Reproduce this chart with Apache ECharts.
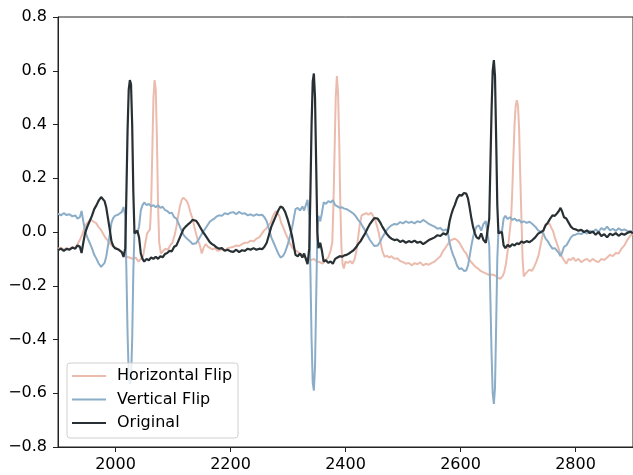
<!DOCTYPE html>
<html>
<head>
<meta charset="utf-8">
<script src="https://cdn.jsdelivr.net/npm/echarts@6/dist/echarts.min.js"></script>
<style>html,body{margin:0;padding:0;background:#fff}#c{width:633px;height:475px}</style>
</head>
<body>
<div id="c"></div>
<script>
// x ticks and y ticks
var xTicks = [2000, 2200, 2400, 2600, 2800];
var yTicks = [-0.8, -0.6, -0.4, -0.2, 0.0, 0.2, 0.4, 0.6, 0.8];
var seriesNames = ['Horizontal Flip', 'Vertical Flip', 'Original'];

// sample positions shared by Original and Vertical Flip
var sampleX = [1900,1905,1910,1915,1920,1925,1930,1934,1938,1941,1944,1947,1951,1955,1959,1963,1967,1971,1975,1978,1981,1984,1987,1990,1993,1996,1999,2002,2005,2008,2011,2014,2017,2019,2021,2023,2025,2027,2029,2031,2033,2035,2038,2041,2044,2047,2050,2054,2058,2062,2066,2070,2074,2078,2082,2086,2090,2094,2098,2102,2106,2110,2114,2118,2122,2126,2130,2134,2137,2140,2144,2148,2152,2156,2160,2164,2168,2172,2176,2180,2185,2190,2195,2200,2205,2210,2215,2220,2225,2230,2235,2240,2245,2250,2255,2259,2263,2267,2271,2275,2279,2283,2287,2291,2295,2299,2303,2307,2310,2313,2317,2321,2325,2328,2331,2334,2337,2339,2341,2343,2345,2347,2349,2351,2353,2356,2359,2362,2366,2370,2374,2378,2382,2386,2390,2394,2398,2402,2406,2410,2414,2418,2422,2426,2430,2434,2438,2442,2446,2450,2453,2456,2460,2464,2468,2472,2476,2480,2485,2490,2495,2500,2505,2510,2515,2520,2525,2530,2535,2540,2545,2550,2555,2560,2565,2570,2575,2578,2581,2584,2587,2590,2594,2598,2602,2606,2610,2613,2616,2619,2622,2625,2628,2632,2636,2640,2644,2647,2650,2652,2654,2656,2658,2660,2662,2664,2666,2669,2672,2675,2678,2682,2686,2690,2694,2698,2702,2706,2710,2715,2720,2725,2730,2735,2740,2744,2748,2752,2756,2760,2764,2768,2771,2774,2777,2780,2784,2788,2792,2796,2800,2805,2810,2815,2820,2825,2830,2835,2840,2845,2850,2855,2860,2865,2870,2875,2880,2885,2890,2895,2900];

var originalY = [-0.068,-0.062,-0.07,-0.063,-0.066,-0.058,-0.062,-0.05,-0.055,-0.078,-0.04,-0.005,0.02,0.04,0.06,0.085,0.1,0.118,0.13,0.128,0.115,0.09,0.05,0.01,-0.035,-0.052,-0.06,-0.055,-0.065,-0.058,-0.075,-0.093,-0.06,0.15,0.38,0.53,0.565,0.55,0.4,0.15,-0.005,-0.01,0.005,-0.02,-0.08,-0.1,-0.11,-0.1,-0.105,-0.095,-0.1,-0.092,-0.1,-0.09,-0.094,-0.082,-0.078,-0.07,-0.072,-0.055,-0.05,-0.03,-0.01,0.01,0.02,0.028,0.035,0.045,0.05,0.042,0.03,0.015,0.0,-0.012,-0.025,-0.038,-0.045,-0.05,-0.058,-0.062,-0.06,-0.07,-0.066,-0.072,-0.074,-0.066,-0.075,-0.068,-0.07,-0.062,-0.066,-0.06,-0.066,-0.062,-0.064,-0.055,-0.04,-0.01,0.02,0.04,0.06,0.08,0.095,0.09,0.075,0.05,0.02,-0.015,-0.05,-0.085,-0.09,-0.08,-0.095,-0.08,-0.1,-0.12,-0.06,0.15,0.4,0.56,0.59,0.5,0.25,0.0,-0.06,-0.04,-0.07,-0.11,-0.105,-0.115,-0.11,-0.118,-0.1,-0.095,-0.09,-0.092,-0.087,-0.085,-0.08,-0.074,-0.068,-0.058,-0.045,-0.035,-0.02,-0.006,0.012,0.028,0.04,0.052,0.045,0.05,0.037,0.02,0.006,-0.008,-0.018,-0.025,-0.03,-0.028,-0.037,-0.032,-0.04,-0.034,-0.038,-0.032,-0.04,-0.036,-0.045,-0.038,-0.03,-0.025,-0.02,-0.012,-0.015,-0.005,-0.01,0.0,0.04,0.065,0.085,0.1,0.125,0.138,0.135,0.145,0.143,0.125,0.09,0.05,0.018,-0.005,-0.02,-0.025,-0.005,-0.03,-0.04,-0.045,0.05,0.25,0.45,0.6,0.64,0.58,0.35,0.1,-0.005,-0.01,0.0,-0.05,-0.06,-0.048,-0.055,-0.045,-0.05,-0.042,-0.045,-0.035,-0.04,-0.034,-0.038,-0.03,-0.02,-0.006,0.0,0.005,0.025,0.035,0.05,0.062,0.06,0.07,0.078,0.09,0.075,0.055,0.05,0.035,0.02,0.012,0.01,0.005,0.008,0.0,0.006,-0.004,0.002,-0.01,0.0,-0.015,-0.008,-0.02,-0.006,-0.012,-0.004,-0.014,-0.006,-0.01,-0.004,0.002,-0.005];

var verticalY = [0.068,0.062,0.07,0.063,0.066,0.058,0.062,0.05,0.055,0.078,0.04,0.005,-0.02,-0.04,-0.06,-0.085,-0.1,-0.118,-0.13,-0.128,-0.115,-0.09,-0.05,-0.01,0.035,0.052,0.06,0.055,0.065,0.058,0.075,0.093,0.06,-0.15,-0.38,-0.53,-0.565,-0.55,-0.4,-0.15,0.005,0.01,-0.005,0.02,0.08,0.1,0.11,0.1,0.105,0.095,0.1,0.092,0.1,0.09,0.094,0.082,0.078,0.07,0.072,0.055,0.05,0.03,0.01,-0.01,-0.02,-0.028,-0.035,-0.045,-0.05,-0.042,-0.03,-0.015,0.0,0.012,0.025,0.038,0.045,0.05,0.058,0.062,0.06,0.07,0.066,0.072,0.074,0.066,0.075,0.068,0.07,0.062,0.066,0.06,0.066,0.062,0.064,0.055,0.04,0.01,-0.02,-0.04,-0.06,-0.08,-0.095,-0.09,-0.075,-0.05,-0.02,0.015,0.05,0.085,0.09,0.08,0.095,0.08,0.1,0.12,0.06,-0.15,-0.4,-0.56,-0.59,-0.5,-0.25,0.0,0.06,0.04,0.07,0.11,0.105,0.115,0.11,0.118,0.1,0.095,0.09,0.092,0.087,0.085,0.08,0.074,0.068,0.058,0.045,0.035,0.02,0.006,-0.012,-0.028,-0.04,-0.052,-0.045,-0.05,-0.037,-0.02,-0.006,0.008,0.018,0.025,0.03,0.028,0.037,0.032,0.04,0.034,0.038,0.032,0.04,0.036,0.045,0.038,0.03,0.025,0.02,0.012,0.015,0.005,0.01,0.0,-0.04,-0.065,-0.085,-0.1,-0.125,-0.138,-0.135,-0.145,-0.143,-0.125,-0.09,-0.05,-0.018,0.005,0.02,0.025,0.005,0.03,0.04,0.045,-0.05,-0.25,-0.45,-0.6,-0.64,-0.58,-0.35,-0.1,0.005,0.01,0.0,0.05,0.06,0.048,0.055,0.045,0.05,0.042,0.045,0.035,0.04,0.034,0.038,0.03,0.02,0.006,0.0,-0.005,-0.025,-0.035,-0.05,-0.062,-0.06,-0.07,-0.078,-0.09,-0.075,-0.055,-0.05,-0.035,-0.02,-0.012,-0.01,-0.005,-0.008,0.0,-0.006,0.004,-0.002,0.01,0.0,0.015,0.008,0.02,0.006,0.012,0.004,0.014,0.006,0.01,0.004,-0.002,0.005];

// Horizontal Flip sample positions and values
var hflipX = [1900,1905,1910,1915,1920,1925,1930,1934,1938,1942,1946,1950,1954,1958,1962,1966,1970,1974,1978,1982,1986,1990,1995,2000,2005,2010,2015,2020,2025,2030,2035,2040,2044,2048,2052,2055,2058,2060,2062,2064,2066,2068,2070,2072,2074,2076,2079,2083,2087,2091,2095,2099,2103,2106,2109,2112,2115,2118,2121,2124,2127,2130,2134,2137,2140,2143,2146,2150,2153,2157,2161,2165,2169,2173,2177,2181,2185,2190,2195,2200,2205,2210,2215,2220,2225,2230,2235,2240,2245,2250,2254,2258,2262,2266,2270,2273,2276,2279,2282,2285,2288,2292,2296,2300,2304,2308,2312,2316,2320,2325,2330,2335,2340,2345,2350,2355,2360,2365,2370,2374,2377,2379,2381,2383,2385,2387,2389,2391,2393,2395,2397,2400,2404,2408,2412,2416,2419,2422,2425,2428,2432,2436,2440,2444,2448,2452,2455,2458,2461,2464,2468,2472,2476,2480,2485,2490,2495,2500,2505,2510,2515,2520,2525,2530,2535,2540,2545,2550,2555,2560,2565,2570,2574,2578,2582,2586,2590,2594,2598,2602,2606,2610,2614,2618,2622,2626,2630,2635,2640,2645,2650,2655,2660,2665,2669,2673,2676,2679,2682,2685,2688,2690,2692,2694,2696,2698,2700,2702,2704,2706,2708,2710,2713,2716,2720,2724,2728,2732,2736,2740,2743,2746,2749,2752,2755,2758,2761,2764,2768,2772,2776,2780,2784,2788,2792,2796,2800,2805,2810,2815,2820,2825,2830,2835,2840,2845,2850,2855,2860,2865,2870,2875,2880,2885,2890,2895,2900];
var hflipY = [-0.062,-0.058,-0.066,-0.06,-0.064,-0.056,-0.06,-0.045,-0.03,-0.01,0.015,0.032,0.04,0.045,0.038,0.034,0.02,0.01,-0.005,-0.02,-0.03,-0.042,-0.052,-0.058,-0.066,-0.075,-0.085,-0.092,-0.096,-0.1,-0.095,-0.11,-0.1,-0.09,-0.04,-0.005,0.0,0.01,0.1,0.3,0.5,0.565,0.53,0.35,0.1,-0.04,-0.08,-0.07,-0.062,-0.066,-0.05,-0.04,-0.01,0.02,0.06,0.095,0.118,0.128,0.13,0.115,0.1,0.075,0.05,0.02,-0.006,-0.03,-0.045,-0.08,-0.06,-0.045,-0.055,-0.06,-0.065,-0.06,-0.07,-0.068,-0.064,-0.07,-0.06,-0.058,-0.055,-0.05,-0.052,-0.045,-0.04,-0.04,-0.032,-0.035,-0.025,-0.02,-0.008,0.005,0.012,0.025,0.035,0.055,0.068,0.078,0.08,0.06,0.035,0.015,-0.006,-0.025,-0.045,-0.06,-0.068,-0.072,-0.08,-0.085,-0.095,-0.1,-0.105,-0.1,-0.11,-0.112,-0.118,-0.105,-0.095,-0.07,-0.04,0.1,0.3,0.5,0.58,0.52,0.35,0.1,-0.06,-0.12,-0.136,-0.11,-0.115,-0.108,-0.118,-0.1,-0.07,-0.02,0.03,0.062,0.066,0.07,0.064,0.072,0.06,0.043,0.02,-0.005,-0.04,-0.07,-0.093,-0.088,-0.095,-0.09,-0.1,-0.098,-0.108,-0.112,-0.118,-0.115,-0.124,-0.116,-0.12,-0.113,-0.124,-0.118,-0.122,-0.115,-0.11,-0.1,-0.09,-0.07,-0.058,-0.045,-0.032,-0.028,-0.025,-0.03,-0.04,-0.055,-0.07,-0.08,-0.1,-0.11,-0.12,-0.13,-0.135,-0.145,-0.15,-0.155,-0.16,-0.158,-0.162,-0.17,-0.174,-0.165,-0.15,-0.12,-0.07,-0.01,0.05,0.15,0.28,0.4,0.47,0.49,0.47,0.38,0.2,0.05,-0.1,-0.165,-0.155,-0.148,-0.14,-0.145,-0.13,-0.11,-0.085,-0.04,-0.01,0.018,0.03,0.037,0.03,0.015,0.004,-0.02,-0.045,-0.07,-0.09,-0.105,-0.118,-0.1,-0.105,-0.095,-0.108,-0.1,-0.112,-0.105,-0.1,-0.11,-0.1,-0.108,-0.112,-0.1,-0.104,-0.095,-0.085,-0.09,-0.078,-0.08,-0.062,-0.05,-0.03,-0.015,-0.005];

function pairs(xs, ys) {
  var out = [];
  for (var i = 0; i < xs.length; i++) out.push([xs[i], ys[i]]);
  return out;
}

var chart = echarts.init(document.getElementById('c'), null, {renderer: 'canvas'});
var fontFamily = '"DejaVu Sans", sans-serif';
var textColor = '#000';
chart.setOption({
  animation: false,
  backgroundColor: '#fff',
  textStyle: {fontFamily: fontFamily},
  grid: {left: 58, top: 17, width: 577, height: 430, show: true, borderColor: '#222', borderWidth: 1, backgroundColor: 'transparent'},
  xAxis: {
    type: 'value', min: 1900, max: 2900,
    splitLine: {show: false},
    axisLine: {show: true, onZero: false, lineStyle: {color: '#222', width: 1}},
    axisTick: {show: true, inside: false, length: 5, lineStyle: {color: '#222'}, customValues: xTicks},
    axisLabel: {fontFamily: fontFamily, fontSize: 16, color: textColor, margin: 10, customValues: xTicks,
      formatter: function (v) { return String(v); }}
  },
  yAxis: {
    type: 'value', min: -0.8, max: 0.8,
    splitLine: {show: false},
    axisLine: {show: true, onZero: false, lineStyle: {color: '#222', width: 1}},
    axisTick: {show: true, inside: false, length: 5, lineStyle: {color: '#222'}, customValues: yTicks},
    axisLabel: {fontFamily: fontFamily, fontSize: 16, color: textColor, margin: 11, customValues: yTicks,
      formatter: function (v) { return v.toFixed(1).replace('-', '\u2212'); }}
  },
  legend: {
    orient: 'vertical', left: 67, top: 363,
    data: seriesNames,
    icon: 'rect', itemWidth: 34, itemHeight: 2.2, itemGap: 7.5,
    padding: [5, 6, 7, 5],
    backgroundColor: 'rgba(255,255,255,0.8)',
    borderColor: '#d0d0d0', borderWidth: 1, borderRadius: 3,
    textStyle: {fontFamily: fontFamily, fontSize: 16, color: textColor, padding: [0, 0, 0, 6]},
    z: 10
  },
  series: [
    {name: seriesNames[0], type: 'line', data: pairs(hflipX, hflipY), showSymbol: false, symbol: 'none',
      color: '#ebbcae', lineStyle: {width: 2, color: '#ebbcae'}, z: 2},
    {name: seriesNames[1], type: 'line', data: pairs(sampleX, verticalY), showSymbol: false, symbol: 'none',
      color: '#8badc7', lineStyle: {width: 2, color: '#8badc7'}, z: 3},
    {name: seriesNames[2], type: 'line', data: pairs(sampleX, originalY), showSymbol: false, symbol: 'none',
      color: '#283033', lineStyle: {width: 2.2, color: '#283033'}, z: 4}
  ]
});
</script>
</body>
</html>
